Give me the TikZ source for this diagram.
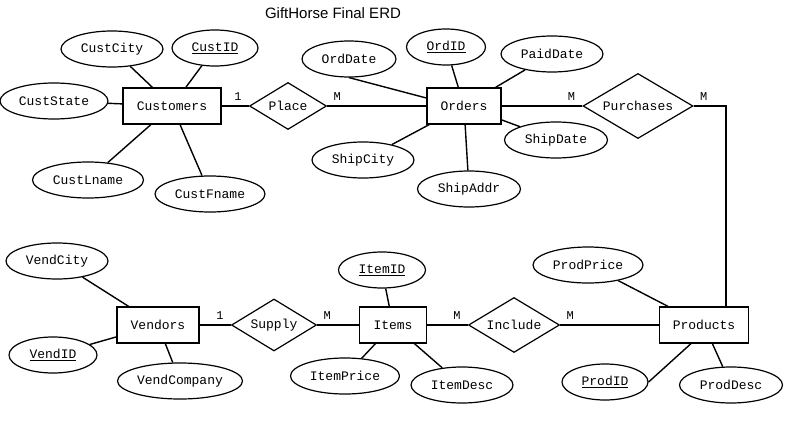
\documentclass[tikz,border=0pt]{standalone}
\usepackage{fontspec}
\setmainfont{Liberation Sans}
\setmonofont{Liberation Mono}
\usetikzlibrary{calc}
\usetikzlibrary{shapes.geometric}
\tikzset{
  erdfont/.style={font=\ttfamily\fontsize{13}{13}\selectfont},
  entity/.style={erdfont, draw, rectangle, line width=1.4pt, inner sep=0pt, minimum height=36pt},
  attrib/.style={erdfont, draw, ellipse, line width=1.2pt, inner sep=0pt, minimum height=36pt},
  relship/.style={erdfont, draw, diamond, aspect=1.7, line width=1.2pt, inner sep=0pt},
  card/.style={font=\ttfamily\fontsize{12}{12}\selectfont, inner sep=0pt},
  link/.style={line width=1.4pt}
}
\newcommand{\key}[1]{\underline{#1}}

\begin{document}
\begin{tikzpicture}[x=1pt,y=-1pt]
        \useasboundingbox (0,0) rectangle (792,441);
        \node[font=\fontsize{15}{15}\selectfont] (title) at (333,13) {GiftHorse Final ERD};
        %entities
        \node[entity, minimum width=98pt] (cust) at (172,106) {Customers};
        \node[entity, minimum width=74pt] (orders) at (464,106) {Orders};
        \node[entity, minimum width=82pt] (vend) at (158,325) {Vendors};
        \node[entity, minimum width=67pt] (items) at (393,325) {Items};
        \node[entity, minimum width=89pt] (prod) at (704,325) {Products};
        %relationships
        \node[relship, minimum width=77pt, minimum height=47pt] (place) at (288,106) {Place};
        \node[relship, minimum width=110pt, minimum height=65pt] (purch) at (638,106) {Purchases};
        \node[relship, minimum width=85pt, minimum height=52pt] (supply) at (274,325) {Supply};
        \node[relship, minimum width=91pt, minimum height=55pt] (incl) at (514,325) {Include};
        \draw[link] (cust) -- (place);
        \draw[link] (place) -- (orders);
        \draw[link] (orders) -- (purch);
        \draw[link] (purch.east) -| ([xshift=22pt]prod.north);
        \draw[link] (vend) -- (supply);
        \draw[link] (supply) -- (items);
        \draw[link] (items) -- (incl);
        \draw[link] (incl) -- (prod);
        \foreach \rl/\lt/\rt in {place/1/M, purch/M/M, supply/1/M, incl/M/M} {
        \node[card] (\rl-l) at ([shift={(-11,-9)}]\rl.west) {\lt};
        \node[card] (\rl-r) at ([shift={(10,-9)}]\rl.east) {\rt};}
        %attributes
        \foreach \nm/\ax/\ay/\ew/\txt/\ent in {
          custcity/112/49/102/CustCity/cust, custid/215/48/86/\key{CustID}/cust,
          custstate/54/101/108/CustState/cust, custlname/88/180/111/CustLname/cust,
          custfname/210/194/110/CustFname/cust,
          ordid/446/47/79/\key{OrdID}/orders, paiddate/552/54/102/PaidDate/orders,
          shipdate/556/140/103/ShipDate/orders, shipcity/363/160/102/ShipCity/orders,
          shipaddr/469/189/103/ShipAddr/orders,
          vendcity/57/261/102/VendCity/vend, vendid/53/355/88/\key{VendID}/vend,
          vendcomp/180/381/125/VendCompany/vend,
          itemid/382/270/87/\key{ItemID}/items, itemprice/345/376/109/ItemPrice/items,
          itemdesc/462/385/102/ItemDesc/items,
          prodprice/588/265/110/ProdPrice/prod, proddesc/731/385/103/ProdDesc/prod} {
        \node[attrib, minimum width=\ew pt] (\nm) at (\ax,\ay) {\txt};
        \draw[link] (\nm) -- (\ent);}
        \node[attrib, minimum width=94pt] (orddate) at (349,59) {OrdDate};
        \node[attrib, minimum width=86pt] (prodid) at (605,382) {\key{ProdID}};
        \draw[link] (orddate.south) -- (orders.168);
        \draw[link] (prodid.east) -- (prod.235);
    \end{tikzpicture}
\end{document}
